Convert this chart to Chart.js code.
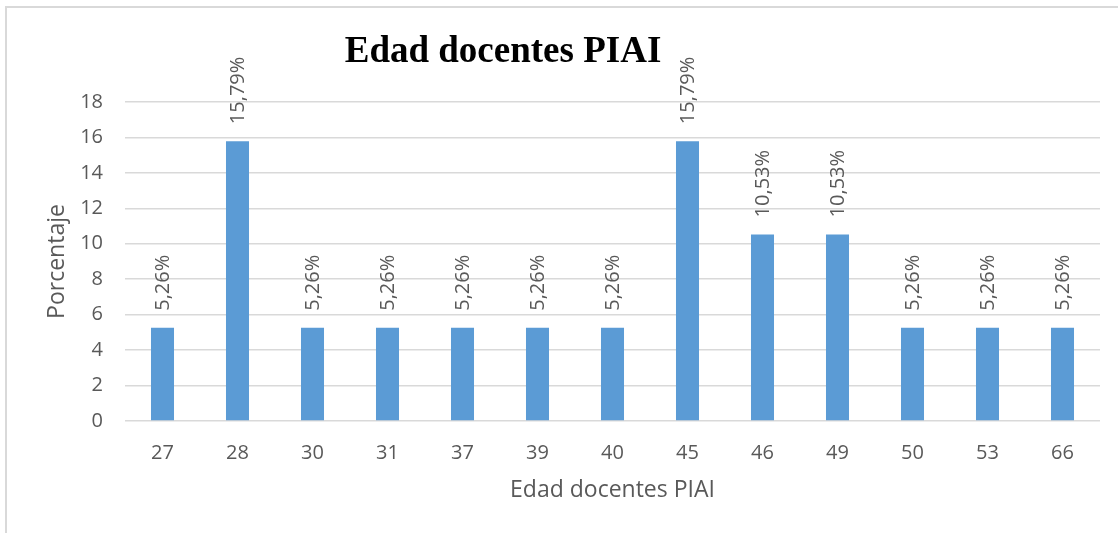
<!DOCTYPE html>
<html>
<head>
<meta charset="utf-8">
<script src="https://cdn.jsdelivr.net/npm/chart.js@4.4.1/dist/chart.umd.min.js"></script>
<style>
body{margin:0;background:#fff;}
#wrap{position:relative;width:1118px;height:533px;overflow:hidden;}
#frame{position:absolute;left:5px;top:6px;width:1200px;height:600px;border-left:2px solid #d9d9d9;border-top:2px solid #d9d9d9;}
#chart{position:absolute;left:0;top:0;}
</style>
</head>
<body>
<div id="wrap">
<div id="frame"></div>
<canvas id="chart" width="1118" height="533"></canvas>
</div>
<script>
// edades y porcentaje de docentes
let edades = ["27","28","30","31","37","39","40","45","46","49","50","53","66"]
let porcentajes = [5.26,15.79,5.26,5.26,5.26,5.26,5.26,15.79,10.53,10.53,5.26,5.26,5.26]
let yTicks = [0,2,4,6,8,10,12,14,16,18]

let gris = "#595959"
let fuente = "'Open Sans', sans-serif"

// etiquetas verticales encima de cada barra
let etiquetas = {
id:"etiquetas",
afterDatasetsDraw(chart){
let ctx = chart.ctx
let meta = chart.getDatasetMeta(0)
ctx.save()
ctx.fillStyle = gris
ctx.font = "20px " + fuente
ctx.textAlign = "left"
ctx.textBaseline = "middle"
meta.data.forEach((bar,i)=>{
let txt = porcentajes[i].toFixed(2).replace(".",",") + "%"
ctx.save()
ctx.translate(bar.x + 1, bar.y - 17)
ctx.rotate(-Math.PI/2)
ctx.fillText(txt,0,0)
ctx.restore()
})
ctx.restore()
}
}

// titulo en negrita
let titulo = {
id:"titulo",
afterDraw(chart){
let ctx = chart.ctx
ctx.save()
ctx.fillStyle = "#000"
ctx.font = "bold 37px 'Liberation Serif', 'Times New Roman', serif"
ctx.textAlign = "center"
ctx.textBaseline = "alphabetic"
ctx.fillText("Edad docentes PIAI",503,62)
ctx.restore()
}
}

new Chart(document.getElementById("chart"),{
type:"bar",
data:{
labels:edades,
datasets:[{
label:"Porcentaje",
data:porcentajes,
backgroundColor:"#5b9bd5",
borderWidth:0,
categoryPercentage:1,
barPercentage:0.307
}]
},
options:{
responsive:false,
animation:false,
layout:{padding:{top:102,right:18,left:0,bottom:0}},
plugins:{legend:{display:false},tooltip:{enabled:false}},
scales:{
x:{
grid:{display:false,drawTicks:false},
border:{display:false},
ticks:{color:gris,font:{family:fuente,size:20},padding:20,maxRotation:0},
title:{display:true,text:"Edad docentes PIAI",color:gris,font:{family:fuente,size:23},padding:{top:0,bottom:29}},
afterFit(s){ s.height = 112 }
},
y:{
min:0,max:18,
afterBuildTicks(s){ s.ticks = yTicks.map(v=>({value:v})) },
grid:{color:"#d9d9d9",lineWidth:1.5,drawTicks:false},
border:{display:false},
ticks:{color:gris,font:{family:fuente,size:20},padding:22},
title:{display:true,text:"Porcentaje",color:gris,font:{family:fuente,size:23},padding:{top:44,bottom:0}},
afterFit(s){ s.width = 125 }
}
}
},
plugins:[etiquetas,titulo]
})
</script>
</body>
</html>
